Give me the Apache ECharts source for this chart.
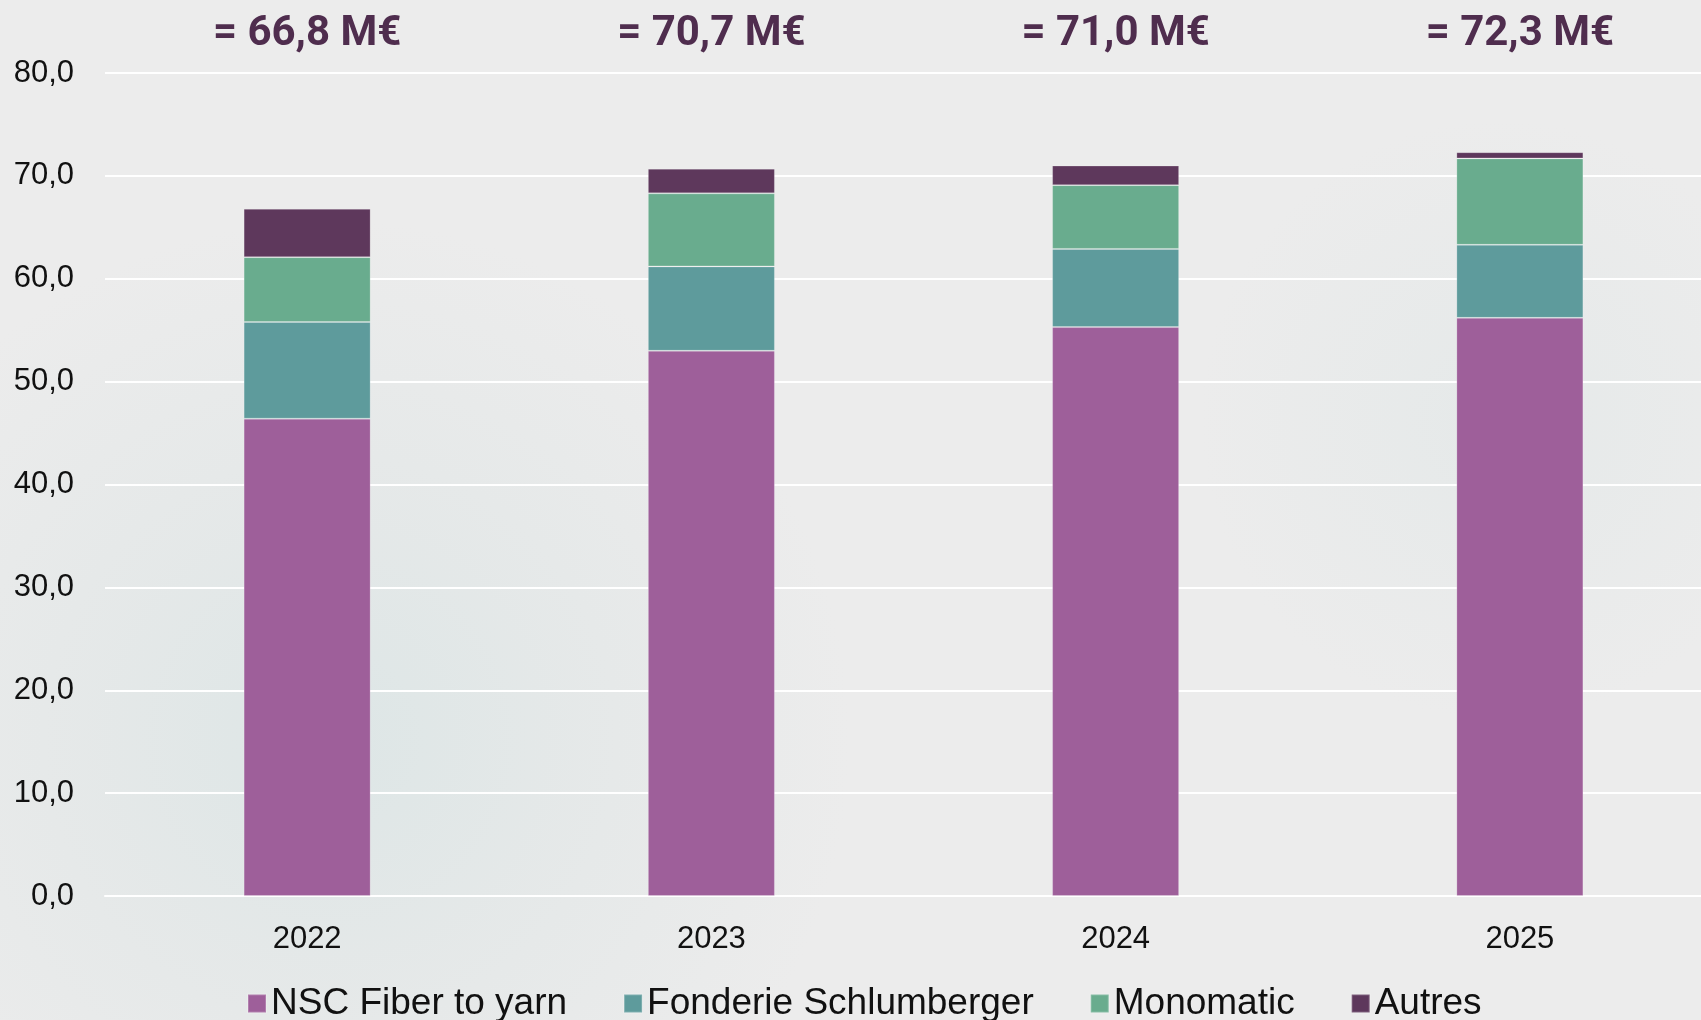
<!DOCTYPE html>
<html>
<head>
<meta charset="utf-8">
<script src="https://cdn.jsdelivr.net/npm/echarts@6/dist/echarts.min.js"></script>
<style>
  html, body {
    margin: 0;
    padding: 0;
    width: 1701px;
    height: 1020px;
    overflow: hidden;
    background-color: #ececec;
    background-image:
      radial-gradient(circle at 330px 740px, #dde6e6 0px, rgba(224, 230, 230, 0.6) 240px, rgba(236, 236, 236, 0) 520px),
      radial-gradient(circle at 1500px 420px, #e5e9e9 0px, rgba(236, 236, 236, 0) 300px);
  }
  #chart {
    width: 1701px;
    height: 1020px;
  }
</style>
</head>
<body>
<div id="chart"></div>
<script>
// données (M€)
const years = ['2022', '2023', '2024', '2025']
const nscFiber = [46.4, 53.0, 55.3, 56.2]
const fonderie = [9.4, 8.2, 7.6, 7.1]
const monomatic = [6.3, 7.1, 6.2, 8.4]
const autres = [4.7, 2.4, 1.9, 0.6]
const yTicks = { min: 0, max: 80, interval: 10 }

const colors = {
  nsc: '#9e5f9a',
  fonderie: '#5e9b9c',
  monomatic: '#69ac8e',
  autres: '#5e385c',
  total: '#4f2d4e'
}

const totals = years.map((_, i) =>
  nscFiber[i] + fonderie[i] + monomatic[i] + autres[i]
)

function fmt(v) {
  return v.toFixed(1).replace('.', ',')
}

const chart = echarts.init(document.getElementById('chart'))

function barSeries(name, data, color) {
  return {
    name: name,
    type: 'bar',
    stack: 'total',
    data: data,
    barWidth: 127,
    itemStyle: {
      color: color,
      borderColor: 'rgba(255,255,255,0.2)',
      borderWidth: 1
    }
  }
}

chart.setOption({
  backgroundColor: 'transparent',
  animation: false,
  grid: {
    left: 105,
    width: 1617,
    top: 73,
    bottom: 124,
    outerBoundsMode: 'none'
  },
  legend: {
    left: 242,
    top: 980,
    itemWidth: 18,
    itemHeight: 18,
    itemGap: 56,
    icon: 'rect',
    textStyle: {
      fontFamily: 'Liberation Sans',
      fontSize: 37,
      color: '#111'
    },
    data: ['NSC Fiber to yarn', 'Fonderie Schlumberger', 'Monomatic', 'Autres']
  },
  xAxis: [
    {
      type: 'category',
      data: years,
      axisLine: { lineStyle: { color: '#ffffff', width: 2 } },
      axisTick: { show: false },
      axisLabel: {
        margin: 28,
        fontFamily: 'Liberation Sans',
        fontSize: 31,
        color: '#111'
      }
    },
    {
      type: 'category',
      position: 'top',
      data: years,
      axisLine: { show: false },
      axisTick: { show: false },
      axisLabel: {
        margin: 18,
        fontFamily: 'Roboto',
        fontWeight: 'bold',
        fontSize: 42,
        color: colors.total,
        formatter: (val, idx) => '= ' + fmt(totals[idx]) + ' M€'
      }
    }
  ],
  yAxis: {
    type: 'value',
    min: yTicks.min,
    max: yTicks.max,
    interval: yTicks.interval,
    axisLine: { show: false },
    axisTick: { show: false },
    splitLine: { lineStyle: { color: '#ffffff', width: 2 } },
    axisLabel: {
      margin: 31,
      fontFamily: 'Liberation Sans',
      fontSize: 31,
      color: '#111',
      formatter: v => fmt(v)
    }
  },
  series: [
    barSeries('NSC Fiber to yarn', nscFiber, colors.nsc),
    barSeries('Fonderie Schlumberger', fonderie, colors.fonderie),
    barSeries('Monomatic', monomatic, colors.monomatic),
    barSeries('Autres', autres, colors.autres)
  ]
})
</script>
</body>
</html>
